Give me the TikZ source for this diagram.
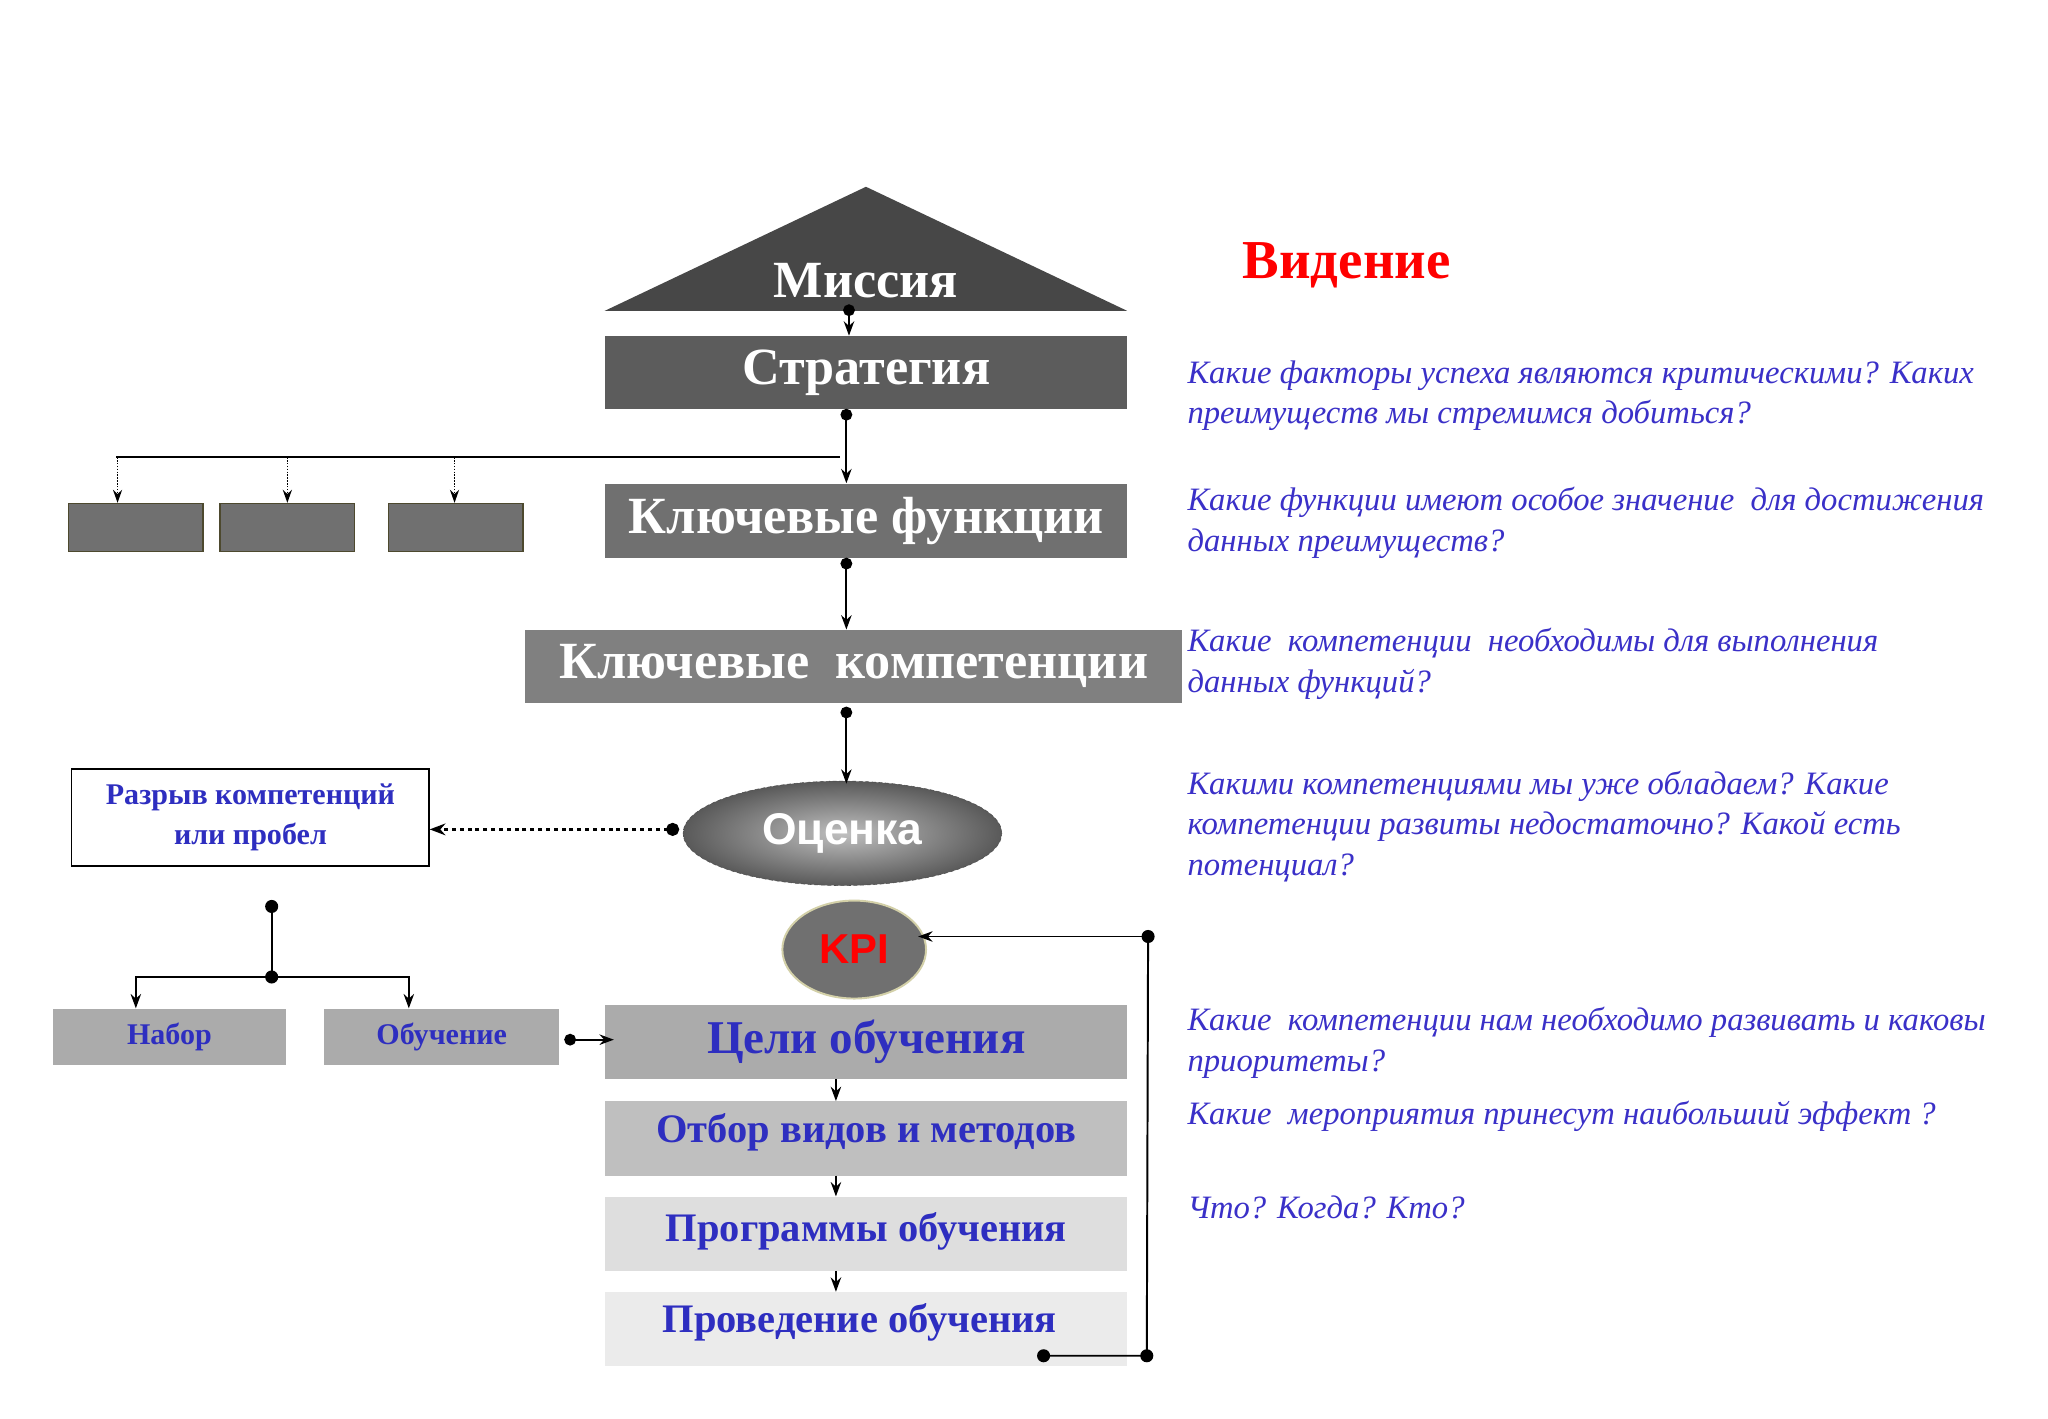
\documentclass[tikz,border=0pt]{standalone}
\usepackage{fontspec}
\setmainfont{Liberation Serif}
\newfontfamily\sansf{Liberation Sans}
\usetikzlibrary{arrows.meta,shapes.geometric}
\definecolor{tblue}{HTML}{2E2EC0}
\definecolor{qblue}{HTML}{3A30C8}
\tikzset{
  x=1pt,y=-1pt,
  box/.style={draw=none,inner sep=0pt,anchor=north west},
  wtxt/.style={text=white,font=\bfseries\fontsize{40}{44}\selectfont},
  btxt/.style={text=tblue,font=\bfseries\fontsize{36}{40}\selectfont},
  stxt/.style={text=tblue,font=\bfseries\fontsize{23}{30}\selectfont,align=center},
  q/.style={anchor=north west,text=qblue,font=\itshape\fontsize{25}{31}\selectfont,align=left,inner sep=0pt},
  conn/.style={line width=1.5pt,{Circle[length=9pt]}-{Stealth[length=11pt,width=8pt]}},
  plain/.style={line width=1.5pt,-{Stealth[length=11pt,width=8pt]}},
}
\begin{document}
\begin{tikzpicture}
\useasboundingbox[fill=white] (0,0) rectangle (1568,1086);
% mission
\fill[fill=black!72] (663,143) -- (863,238) -- (463,238) -- cycle;
\node[wtxt] (mis) at (663,215) {Миссия};
\coordinate (misd) at (650,233);
% boxes
\node[box,fill=black!64,minimum width=400pt,minimum height=56pt] (str) at (463,257) {};
\node[wtxt] at (str.center) {Стратегия};
\node[box,fill=black!56,minimum width=400pt,minimum height=57pt] (kf) at (463,370) {};
\node[wtxt] at (kf.center) {Ключевые функции};
\node[box,fill=black!50,minimum width=503pt,minimum height=56pt] (kk) at (402,482) {};
\node[wtxt] at (kk.center) {Ключевые\ \ компетенции};
\draw[conn] (misd) -- (650,257);
\draw[conn] (648,313) -- (648,370);
\draw[conn] (648,427) -- (648,482);
% small boxes
\foreach \i/\x/\ax in {1/52/90,2/168/220,3/297/348}{
  \node[box,fill=black!56,draw=black!60!olive,line width=1pt,minimum width=103pt,minimum height=37pt] (sb\i) at (\x,385) {};
  \draw[densely dotted,line width=1.2pt,-{Stealth[length=10pt,width=7pt]}] (\ax,350) -- (\ax,385);
}
\draw[line width=1.5pt] (643,350) -- (89,350);
% ocenka
\node[ellipse,minimum width=244pt,minimum height=80pt,inner color=black!25,outer color=black!65,draw=black!70,densely dashed] (oc) at (645,638) {};
\node[text=white,font=\sansf\bfseries\fontsize{34}{38}\selectfont] at (645,638) {Оценка};
\draw[conn] (648,541) -- (648,600);
\node[box,draw=black,line width=1.5pt,fill=white,minimum width=274pt,minimum height=74pt] (gap) at (54,588) {};
\node[stxt] at (gap.center) {Разрыв компетенций\\или пробел};
\draw[line width=2pt,dashed,{Circle[length=10pt]}-{Stealth[length=12pt,width=9pt]}] (520,635) -- (329,635);
% nabor/obuchenie
\node[box,fill=black!33,minimum width=179pt,minimum height=43pt] (nab) at (40,772) {};
\node[stxt] at (nab.center) {Набор};
\node[box,fill=black!33,minimum width=180pt,minimum height=43pt] (obu) at (248,772) {};
\node[stxt] at (obu.center) {Обучение};
\coordinate (tp) at (208,694);
\coordinate (jn) at (208,748);
\fill (tp) circle (5pt);
\fill (jn) circle (5pt);
\draw[line width=1.5pt] (tp) -- (jn);
\draw[plain] (jn) -| (104,772);
\draw[plain] (jn) -| (313,772);
% KPI
\node[ellipse,minimum width=110pt,minimum height=75pt,fill=black!56,draw=yellow!50!black!40,line width=1.5pt] (kpi) at (654,727) {};
\node[text=red,font=\sansf\bfseries\fontsize{32}{36}\selectfont] at (kpi.center) {KPI};
% learning chain
\node[box,fill=black!33,minimum width=400pt,minimum height=57pt] (c1) at (463,769) {};
\node[btxt] at (c1.center) {Цели обучения};
\node[box,fill=black!25,minimum width=400pt,minimum height=57pt] (c2) at (463,843) {};
\node[btxt,font=\bfseries\fontsize{31}{36}\selectfont] at ([yshift=5pt]c2.center) {Отбор видов и методов};
\node[box,fill=black!13,minimum width=400pt,minimum height=57pt] (c3) at (463,916) {};
\node[btxt,font=\bfseries\fontsize{31}{36}\selectfont] at ([yshift=2pt]c3.center) {Программы обучения};
\node[box,fill=black!8,minimum width=400pt,minimum height=57pt] (c4) at (463,989) {};
\node[btxt,font=\bfseries\fontsize{31}{36}\selectfont] at ([xshift=-5pt,yshift=5pt]c4.center) {Проведение обучения};
\draw[conn] (432,796) -- (470,796);
\draw[plain] (640,826) -- (640,843);
\draw[plain] (640,900) -- (640,916);
\draw[plain] (640,973) -- (640,989);
\coordinate (l1) at (799,1038);
\coordinate (l2) at (878,1038);
\coordinate (l3) at (879,717);
\fill (l1) circle (5pt); \fill (l2) circle (5pt); \fill (l3) circle (5pt);
\draw[line width=1.5pt] (l1) -- (l2) -- (l3);
\draw[plain] (l3) -- (703,717);
% right texts
\node[text=red,font=\bfseries\fontsize{42}{46}\selectfont] (vid) at (1031,203) {Видение};
\node[q] at (909,276) {Какие факторы успеха являются критическими? Каких\\преимуществ мы стремимся добиться?};
\node[q] at (909,373) {Какие функции имеют особое значение \ для достижения\\данных преимуществ?};
\node[q] at (909,481) {Какие\ \ компетенции\ \ необходимы для выполнения\\данных функций?};
\node[q] at (909,590) {Какими компетенциями мы уже обладаем? Какие\\компетенции развиты недостаточно? Какой есть\\потенциал?};
\node[q] at (909,771) {Какие\ \ компетенции нам необходимо развивать и каковы\\приоритеты?};
\node[q] at (909,843) {Какие\ \ мероприятия принесут наибольший эффект ?};
\node[q] at (909,915) {Что? Когда? Кто?};
\end{tikzpicture}
\end{document}
